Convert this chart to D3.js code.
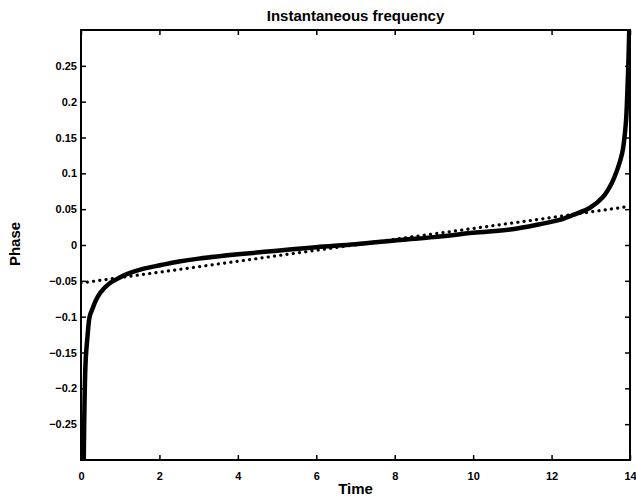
<!DOCTYPE html>
<html lang="en">

<head>
  <meta charset="UTF-8">
  <title>Instantaneous frequency</title>
  <script src="https://d3js.org/d3.v7.min.js"></script>
  <style>
    body {
      margin: 0;
      background: #fff;
    }

    text {
      font-family: "Liberation Sans", Arial, sans-serif;
      font-weight: bold;
      fill: #000;
    }
  </style>
</head>

<body>
  <div id="chart"></div>

  <script>
    // values
    const solidTime = [0.07, 0.09, 0.12, 0.17, 0.22, 0.3, 0.38, 0.5, 0.74, 1.0, 1.2, 1.6, 2.04, 2.5, 3, 4, 5, 6, 7,
      8.14, 9, 10, 11, 11.7, 12.2, 12.55, 12.98, 13.31, 13.54, 13.7, 13.8, 13.85, 13.9, 13.93, 13.96, 13.98];
    const solidPhase = [-0.3, -0.22, -0.16, -0.125, -0.1, -0.088, -0.077, -0.066, -0.053, -0.045, -0.04, -0.033, -0.028,
      -0.023, -0.019, -0.013, -0.008, -0.003, 0.001, 0.007, 0.011, 0.017, 0.022, 0.029, 0.035, 0.042, 0.052,
      0.067, 0.087, 0.109, 0.128, 0.146, 0.174, 0.21, 0.257, 0.3];

    const dottedTime = [0, 2.52, 8.14, 11.7, 14];
    const dottedPhase = [-0.053, -0.034, 0.009, 0.036, 0.054];

    const xTicks = [0, 2, 4, 6, 8, 10, 12, 14];
    const yTicks = [-0.25, -0.2, -0.15, -0.1, -0.05, 0, 0.05, 0.1, 0.15, 0.2, 0.25];

    const width = 636;
    const height = 500;
    const margin = { top: 30, right: 6, bottom: 40, left: 81 };
    const innerW = width - margin.left - margin.right;
    const innerH = height - margin.top - margin.bottom;

    const svg = d3.select("#chart")
      .append("svg")
      .attr("width", width)
      .attr("height", height);

    const g = svg.append("g")
      .attr("transform", `translate(${margin.left},${margin.top})`);

    const x = d3.scaleLinear().domain([0, 14]).range([0, innerW]);
    const y = d3.scaleLinear().domain([-0.3, 0.3]).range([innerH, 0]);

    // clip so the curve ends at the frame
    svg.append("defs").append("clipPath")
      .attr("id", "plot-clip")
      .append("rect")
      .attr("width", innerW)
      .attr("height", innerH);

    const line = d3.line()
      .x(d => x(d[0]))
      .y(d => y(d[1]))
      .curve(d3.curveCatmullRom.alpha(0.5));

    const plot = g.append("g").attr("clip-path", "url(#plot-clip)");

    plot.append("path")
      .datum(dottedTime.map((t, i) => [t, dottedPhase[i]]))
      .attr("d", d3.line().x(d => x(d[0])).y(d => y(d[1])))
      .attr("fill", "none")
      .attr("stroke", "#000")
      .attr("stroke-width", 3.2)
      .attr("stroke-linecap", "round")
      .attr("stroke-dasharray", "0.1 6.2");

    plot.append("path")
      .datum(solidTime.map((t, i) => [t, solidPhase[i]]))
      .attr("d", line)
      .attr("fill", "none")
      .attr("stroke", "#000")
      .attr("stroke-width", 4.5)
      .attr("stroke-linejoin", "round");

    // axes with inward ticks, MATLAB box style
    const tickFmt = d => d3.format("")(+d.toFixed(2));

    g.append("g")
      .attr("transform", `translate(0,${innerH})`)
      .call(d3.axisBottom(x).tickValues(xTicks).tickSizeInner(-5).tickSizeOuter(0).tickPadding(12).tickFormat(d3.format("d")));

    g.append("g")
      .call(d3.axisTop(x).tickValues(xTicks).tickSizeInner(-5).tickSizeOuter(0).tickFormat(""));

    g.append("g")
      .call(d3.axisLeft(y).tickValues(yTicks).tickSizeInner(-5).tickSizeOuter(0).tickPadding(4).tickFormat(tickFmt));

    g.append("g")
      .attr("transform", `translate(${innerW},0)`)
      .call(d3.axisRight(y).tickValues(yTicks).tickSizeInner(-5).tickSizeOuter(0).tickFormat(""));

    g.selectAll(".domain").remove();
    g.selectAll(".tick line").attr("stroke", "#000").attr("stroke-width", 1.5);
    g.selectAll(".tick text").style("font-size", "11px");

    g.append("rect")
      .attr("width", innerW)
      .attr("height", innerH)
      .attr("fill", "none")
      .attr("stroke", "#000")
      .attr("stroke-width", 2);

    // labels
    svg.append("text")
      .attr("x", margin.left + innerW / 2)
      .attr("y", 21)
      .attr("text-anchor", "middle")
      .style("font-size", "15px")
      .text("Instantaneous frequency");

    svg.append("text")
      .attr("x", margin.left + innerW / 2)
      .attr("y", 494)
      .attr("text-anchor", "middle")
      .style("font-size", "15px")
      .text("Time");

    svg.append("text")
      .attr("transform", "translate(20,244) rotate(-90)")
      .attr("text-anchor", "middle")
      .style("font-size", "15px")
      .text("Phase");
  </script>
</body>

</html>
